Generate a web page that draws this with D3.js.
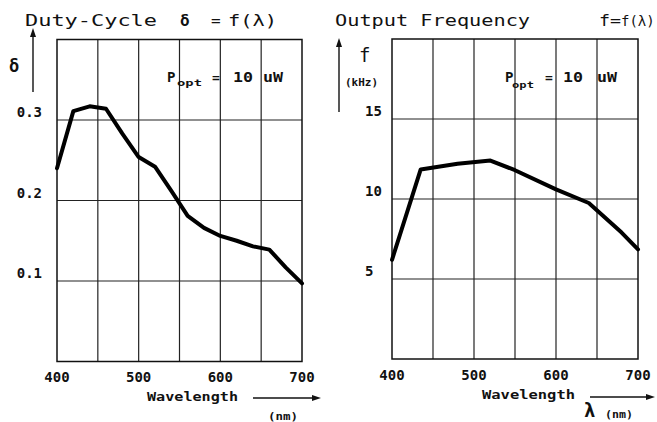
<!DOCTYPE html>
<html>
<head>
<meta charset="utf-8">
<script src="https://cdn.jsdelivr.net/npm/d3@7"></script>
<style>
  body { margin: 0; background: #fff; }
  text { font-family: "DejaVu Sans Mono", monospace; fill: #111; }
</style>
</head>
<body>
<div id="viz"></div>
<script>
// ---- data ----
let duty_wavelength = [400, 420, 440, 460, 480, 500, 520, 540, 560, 580, 600, 620, 640, 660, 680, 700];
let duty_values     = [0.240, 0.311, 0.317, 0.314, 0.283, 0.254, 0.242, 0.212, 0.181, 0.166, 0.156, 0.150, 0.143, 0.139, 0.117, 0.097];

let freq_wavelength = [400, 435, 480, 520, 550, 600, 640, 680, 700];
let freq_values     = [6.2, 11.85, 12.2, 12.4, 11.8, 10.6, 9.75, 7.9, 6.85];

let x_ticks = [400, 500, 600, 700];
let x_grid = [450, 500, 550, 600, 650];
let duty_ticks = [0.1, 0.2, 0.3];
let duty_tick_labels = ["0.1", "0.2", "0.3"];
let freq_ticks = [5, 10, 15];
let freq_tick_labels = ["5", "10", "15"];

let width_svg = 657, height_svg = 422;

let svg_container = d3.select("#viz")
    .append("svg")
    .attr("width", width_svg)
    .attr("height", height_svg);

function add_arrow(x1, y1, x2, y2){
    // line with a filled head at (x2,y2)
    let ang = Math.atan2(y2 - y1, x2 - x1);
    let len = 9, half = 3;
    let bx = x2 - len*Math.cos(ang), by = y2 - len*Math.sin(ang);
    svg_container.append("line")
        .attr("x1", x1).attr("y1", y1)
        .attr("x2", bx).attr("y2", by)
        .attr("stroke", "#111").attr("stroke-width", 1.4);
    let px = -Math.sin(ang)*half, py = Math.cos(ang)*half;
    svg_container.append("path")
        .attr("d", "M" + x2 + "," + y2 + "L" + (bx + px) + "," + (by + py) + "L" + (bx - px) + "," + (by - py) + "Z")
        .attr("fill", "#111");
}

function add_text(str, x, y, size, opts){
    opts = opts || {};
    let t = svg_container.append("text")
        .attr("x", x).attr("y", y)
        .style("font-size", size + "px")
        .style("font-weight", opts.bold ? "bold" : "normal")
        .style("text-anchor", opts.anchor || "start")
        .text(str);
    if(opts.len){
        t.attr("textLength", opts.len).attr("lengthAdjust", "spacingAndGlyphs");
    }
    return t;
}

function draw_panel(p){
    let x_scale = d3.scaleLinear().domain([400, 700]).range([p.x0, p.x1]);
    let y_scale = d3.scaleLinear().domain(p.y_domain).range([p.y0, p.y1]);

    let g = svg_container.append("g");

    // vertical grid
    g.selectAll(".vgrid")
        .data(x_grid)
        .enter()
        .append("line")
        .attr("x1", d => x_scale(d)).attr("x2", d => x_scale(d))
        .attr("y1", p.y1).attr("y2", p.y0)
        .attr("stroke", "#222").attr("stroke-width", 1.2);

    // horizontal grid
    g.selectAll(".hgrid")
        .data(p.ticks)
        .enter()
        .append("line")
        .attr("x1", p.x0).attr("x2", p.x1)
        .attr("y1", d => y_scale(d)).attr("y2", d => y_scale(d))
        .attr("stroke", "#222").attr("stroke-width", 1.2);

    // frame
    g.append("rect")
        .attr("x", p.x0).attr("y", p.y1)
        .attr("width", p.x1 - p.x0).attr("height", p.y0 - p.y1)
        .attr("fill", "none").attr("stroke", "#111").attr("stroke-width", 1.5);

    // curve
    let line_gen = d3.line()
        .x((d, i) => x_scale(p.xs[i]))
        .y(d => y_scale(d));
    g.append("path")
        .datum(p.ys)
        .attr("d", line_gen)
        .attr("fill", "none")
        .attr("stroke", "#000")
        .attr("stroke-width", 4)
        .attr("stroke-linejoin", "round")
        .attr("stroke-linecap", "round");

    // y tick labels
    g.selectAll(".ylab")
        .data(p.ticks)
        .enter()
        .append("text")
        .attr("x", p.ylab_x)
        .attr("y", d => y_scale(d) - 3)
        .style("font-size", "14px")
        .style("font-weight", "bold")
        .style("text-anchor", p.ylab_anchor)
        .text((d, i) => p.tick_labels[i]);

    // x tick labels
    g.selectAll(".xlab")
        .data(x_ticks)
        .enter()
        .append("text")
        .attr("x", d => x_scale(d))
        .attr("y", p.xlab_y)
        .style("font-size", "14px")
        .style("font-weight", "bold")
        .style("text-anchor", "middle")
        .text(d => d);
}

// ---- left: duty cycle ----
draw_panel({
    x0: 57, x1: 302, y0: 361.5, y1: 39.5,
    y_domain: [0, 0.4],
    xs: duty_wavelength, ys: duty_values,
    ticks: duty_ticks, tick_labels: duty_tick_labels,
    ylab_x: 42, ylab_anchor: "end", xlab_y: 382
});

// ---- right: output frequency ----
draw_panel({
    x0: 392, x1: 638, y0: 359, y1: 39,
    y_domain: [0, 20],
    xs: freq_wavelength, ys: freq_values,
    ticks: freq_ticks, tick_labels: freq_tick_labels,
    ylab_x: 365, ylab_anchor: "start", xlab_y: 380
});

// titles
add_text("Duty-Cycle", 25, 26, 16, {len: 132});
add_text("δ", 180, 26, 16, {bold: true});
add_text("=", 211, 26, 16);
add_text("f(λ)", 228, 26, 16, {len: 49});

add_text("Output Frequency", 335, 26, 16, {len: 195});
add_text("f=", 599, 26, 16, {len: 22});
add_text("f(λ)", 621, 26, 14);

// P_opt notes
add_text("P", 167, 82, 14, {bold: true});
add_text("opt", 177, 86, 9, {bold: true, len: 25});
add_text("=", 212, 82, 13, {bold: true});
add_text("10", 233, 82, 14, {bold: true, len: 20});
add_text("uW", 263, 82, 14, {bold: true, len: 20});

add_text("P", 505, 82, 14, {bold: true});
add_text("opt", 512, 88, 9, {bold: true, len: 22});
add_text("=", 545, 82, 13, {bold: true});
add_text("10", 563, 82, 14, {bold: true, len: 20});
add_text("uW", 597, 82, 14, {bold: true, len: 20});

// y axis arrows and names
add_arrow(33, 92, 33, 28);
add_text("δ", 9, 72, 17, {bold: true});

add_arrow(339, 112, 339, 38);
add_text("f", 359, 62, 19);
add_text("(kHz)", 345, 86, 10, {bold: true, len: 33});

// x axis names and arrows
add_text("Wavelength", 147, 401, 13, {bold: true, len: 91});
add_arrow(253, 398, 321, 398);
add_text("(nm)", 268, 420, 10, {bold: true, len: 30});

add_text("Wavelength", 482, 399, 13, {bold: true, len: 93});
add_arrow(590, 397, 655, 397);
add_text("λ", 584, 417, 19, {bold: true});
add_text("(nm)", 605, 418, 10, {bold: true, len: 28});
</script>
</body>
</html>
